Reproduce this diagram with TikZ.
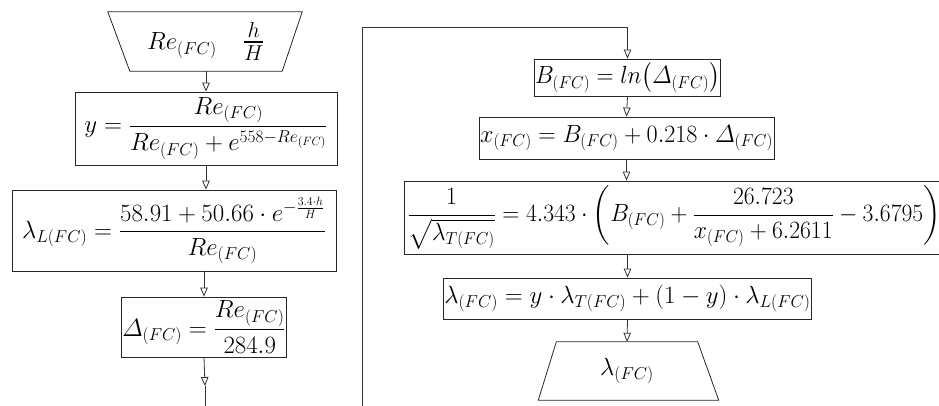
\documentclass[tikz,border=0pt]{standalone}
\usepackage{amsmath}
\usetikzlibrary{arrows.meta}
\begin{document}
\begin{tikzpicture}[x=1pt,y=-1pt,
  every node/.style={font=\fontsize{23}{27}\selectfont},
  box/.style={draw=black!85, line width=0.8pt, inner sep=1pt},
  shapeline/.style={draw=black!85, line width=0.8pt},
  conn/.style={draw=black!80, line width=0.8pt},
  arr/.style={conn, -{Triangle[open, length=9pt, width=7.5pt]}}]
\useasboundingbox (0,0) rectangle (939,405);
\clip (0,0) rectangle (939,405);
% left column
\node (in) [minimum width=152pt, minimum height=59pt, inner sep=0pt] at (206,41.5)
  {$Re_{(FC)}\hspace{26pt}\scalebox{1.25}{$\frac{h}{H}$}$};
\draw[shapeline] ([xshift=-22pt]in.north west) -- ([xshift=20pt]in.north east)
  -- (in.south east) -- (in.south west) -- cycle;
\node (y) [box, minimum width=262pt, minimum height=73pt] at (206,128.5)
  {$y=\dfrac{Re_{(FC)}}{Re_{(FC)}+e^{558-Re_{(FC)}}}$};
\node (lamL) [box, minimum width=324pt, minimum height=81pt] at (174,230.5)
  {$\lambda_{L(FC)}=\dfrac{58.91+50.66\cdot e^{-\frac{3.4\cdot h}{H}}}{Re_{(FC)}}$};
\node (d) [box, minimum width=154pt, minimum height=60pt] at (204,327)
  {$\varDelta_{(FC)}=\dfrac{Re_{(FC)}}{284.9}$};
\coordinate (dmid) at (205,386);
\coordinate (dend) at (205,406);
% right column
\node (B) [box, minimum width=181pt, minimum height=37pt] at (627.5,77.5)
  {\scalebox{0.95}[1]{$B_{(FC)}=ln\bigl(\varDelta_{(FC)}\bigr)$}};
\node (x) [box, minimum width=295pt, minimum height=42pt] at (626.5,138)
  {\scalebox{0.97}[1]{$x_{(FC)}=B_{(FC)}+0.218\cdot\varDelta_{(FC)}$}};
\node (T) [box, anchor=west, inner xsep=3pt, minimum height=73pt] at (404,217.5)
  {\makebox[545pt][l]{\scalebox{0.95}[1]{$\dfrac{1}{\sqrt{\lambda_{T(FC)}}}=4.343\cdot\left(B_{(FC)}+\dfrac{26.723}{x_{(FC)}+6.2611}-3.6795\right)$}}};
\node (lam) [box, minimum width=359pt, minimum height=41pt] at (627.5,298.5)
  {$\lambda_{(FC)}=y\cdot\lambda_{T(FC)}+(1-y)\cdot\lambda_{L(FC)}$};
\node (out) [minimum width=141pt, minimum height=58pt, inner sep=0pt] at (627,371)
  {$\lambda_{(FC)}$};
\draw[shapeline] (out.north west) -- (out.north east)
  -- ([xshift=21pt]out.south east) -- ([xshift=-18pt]out.south west) -- cycle;
\coordinate (rbot) at (362,406);
\coordinate (rtop) at (362,27);
% connectors
\draw[arr] (in.south) -- (y.north);
\draw[arr] (y.south) -- (y.south |- lamL.north);
\draw[arr] (d.north |- lamL.south) -- (d.north);
\draw[arr] (d.south) -- (dmid);
\draw[conn] (dmid) -- (dend);
\draw[arr] (rbot) -- (rtop) -| (B.north);
\draw[arr] (B.south) -- (x.north);
\draw[arr] (x.south) -- (x.south |- T.north);
\draw[arr] (lam.north |- T.south) -- (lam.north);
\draw[arr] (lam.south) -- (out.north);
\end{tikzpicture}
\end{document}
